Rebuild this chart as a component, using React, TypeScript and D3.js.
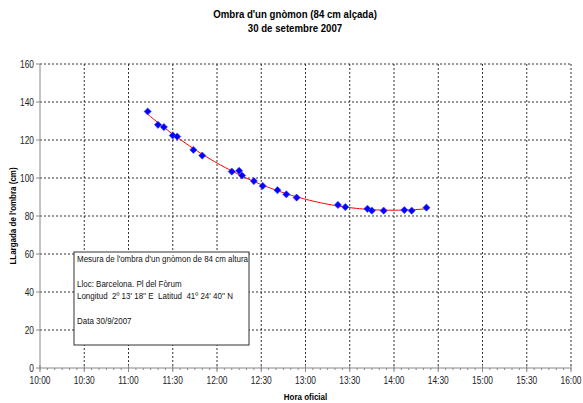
import React from 'react'
import * as d3 from 'd3'

// measured shadow length of an 84 cm gnomon, Barcelona, 30/9/2007
const times = ['11:13', '11:20', '11:24', '11:30', '11:33', '11:44', '11:50', '12:10', '12:15', '12:17', '12:25', '12:31',
  '12:41', '12:47', '12:54', '13:22', '13:27', '13:42', '13:45', '13:53', '14:07', '14:12', '14:22']
const lengths = [135, 128, 126.8, 122.4, 121.8, 114.8, 111.8, 103.4, 103.8, 101.3, 98.4, 95.8,
  93.6, 91.4, 89.7, 85.8, 84.7, 83.8, 82.8, 82.8, 83.1, 82.8, 84.4]
const yTicks = [0, 20, 40, 60, 80, 100, 120, 140, 160]
const xTicks = ['10:00', '10:30', '11:00', '11:30', '12:00', '12:30', '13:00', '13:30', '14:00', '14:30', '15:00', '15:30', '16:00']
const titleLines = ["Ombra d'un gnòmon (84 cm alçada)", '30 de setembre 2007']
const noteLines = ["Mesura de l'ombra d'un gnòmon de 84 cm altura", '', 'Lloc: Barcelona. Pl del Fòrum',
  "Longitud  2º 13' 18'' E  Latitud  41º 24' 40'' N", '', 'Data 30/9/2007']

const toHours = (s: string) => {
  const [h, m] = s.split(':').map(Number)
  return h + m / 60
}

// least squares polynomial (Excel-style trendline)
const polyFit = (xs: number[], ys: number[], deg: number) => {
  const n = deg + 1
  const A: number[][] = []
  for (let i = 0; i < n; i++) {
    A.push([])
    for (let j = 0; j < n; j++) A[i].push(d3.sum(xs, (x) => Math.pow(x, i + j)))
    A[i].push(d3.sum(xs, (x, k) => Math.pow(x, i) * ys[k]))
  }
  for (let c = 0; c < n; c++) {
    let p = c
    for (let r = c + 1; r < n; r++) if (Math.abs(A[r][c]) > Math.abs(A[p][c])) p = r
    ;[A[c], A[p]] = [A[p], A[c]]
    for (let r = 0; r < n; r++) {
      if (r === c) continue
      const f = A[r][c] / A[c][c]
      for (let k = c; k <= n; k++) A[r][k] -= f * A[c][k]
    }
  }
  const coef = A.map((row, i) => row[n] / row[i])
  return (x: number) => coef.reduce((s, c, i) => s + c * Math.pow(x, i), 0)
}

const font = 'Arial, "Liberation Sans", sans-serif'
const SQ = 0.84 // squeeze to mimic the narrow Excel font

// text squeezed horizontally around its anchor point
const T = (props: { x: number; y: number; anchor?: string; size: number; bold?: boolean; fill?: string; children: React.ReactNode }) => (
  <text
    transform={`translate(${props.x},${props.y}) scale(${SQ},1)`}
    textAnchor={props.anchor ?? 'start'}
    fontFamily={font}
    fontSize={props.size}
    fontWeight={props.bold ? 'bold' : 'normal'}
    fill={props.fill ?? '#000'}
    style={{ whiteSpace: 'pre' }}
  >
    {props.children}
  </text>
)

export default function App() {
  const width = 583
  const height = 403
  const m = { left: 40, right: 571, top: 64, bottom: 368 }

  const x = d3.scaleLinear().domain([10, 16]).range([m.left, m.right])
  const y = d3.scaleLinear().domain([0, 160]).range([m.bottom, m.top])

  const hrs = times.map(toHours)
  const fit = polyFit(hrs.map((h) => h - 12), lengths, 3)
  const trendX = d3.range(0, 101).map((i) => hrs[0] + (hrs[hrs.length - 1] - hrs[0]) * i / 100)
  const trend = d3.line<number>()
    .x((h) => x(h))
    .y((h) => y(fit(h - 12)))

  const minor = d3.range(0, 73).map((i) => 10 + i / 12)
  const marker = d3.symbol().type(d3.symbolSquare).size(26)()

  const box = { x: 74, y: 252, w: 175, h: 93 }

  return (
    <svg width={width} height={height} style={{ position: 'absolute', left: 0, top: 0, background: '#fff' }}>
      {titleLines.map((t, i) => (
        <T key={t} x={295} y={18 + i * 14} anchor="middle" size={11.5} bold>{t}</T>
      ))}

      {/* grid */}
      {yTicks.slice(1).map((v) => (
        <line key={'gy' + v} x1={m.left} x2={m.right} y1={y(v)} y2={y(v)} stroke="#333" strokeDasharray="2,2" />
      ))}
      {xTicks.slice(1).map((t) => (
        <line key={'gx' + t} x1={x(toHours(t))} x2={x(toHours(t))} y1={m.top} y2={m.bottom} stroke="#333" strokeDasharray="2,2" />
      ))}

      {/* axes */}
      <line x1={m.left} x2={m.left} y1={m.top} y2={m.bottom} stroke="#888" />
      <line x1={m.left} x2={m.right} y1={m.bottom} y2={m.bottom} stroke="#888" />
      {yTicks.map((v) => (
        <g key={'yt' + v}>
          <line x1={m.left - 4} x2={m.left} y1={y(v)} y2={y(v)} stroke="#888" />
          <T x={m.left - 6} y={y(v) + 3.5} anchor="end" size={10} fill="#222">{v}</T>
        </g>
      ))}
      {minor.map((h, i) => (
        <line key={'mt' + i} x1={x(h)} x2={x(h)} y1={m.bottom} y2={m.bottom + 2} stroke="#888" />
      ))}
      {xTicks.map((t) => (
        <g key={'xt' + t}>
          <line x1={x(toHours(t))} x2={x(toHours(t))} y1={m.bottom - 3} y2={m.bottom + 4} stroke="#888" />
          <T x={x(toHours(t))} y={m.bottom + 16} anchor="middle" size={10} fill="#222">{t}</T>
        </g>
      ))}
      <T x={(m.left + m.right) / 2} y={400} anchor="middle" size={9.5} bold>Hora oficial</T>
      <text transform={`translate(16,${(m.top + m.bottom) / 2}) rotate(-90) scale(${SQ},1)`} textAnchor="middle"
        fontFamily={font} fontWeight="bold" fontSize={9.5}>LLargada de l'ombra (cm)</text>

      {/* trend + points */}
      <path d={trend(trendX) ?? ''} fill="none" stroke="#ff0000" strokeWidth={1} />
      {hrs.map((h, i) => (
        <path key={'p' + i} d={marker ?? ''} transform={`translate(${x(h)},${y(lengths[i])}) rotate(45)`}
          fill="#0000ff" stroke="#4444ff" strokeWidth={0.6} />
      ))}

      {/* note box */}
      <rect x={box.x} y={box.y} width={box.w} height={box.h} fill="#fff" stroke="#333" />
      {noteLines.map((t, i) => (
        <T key={'n' + i} x={box.x + 3} y={box.y + 9.5 + i * 12.5} size={9.5} fill="#111">{t}</T>
      ))}
    </svg>
  )
}
